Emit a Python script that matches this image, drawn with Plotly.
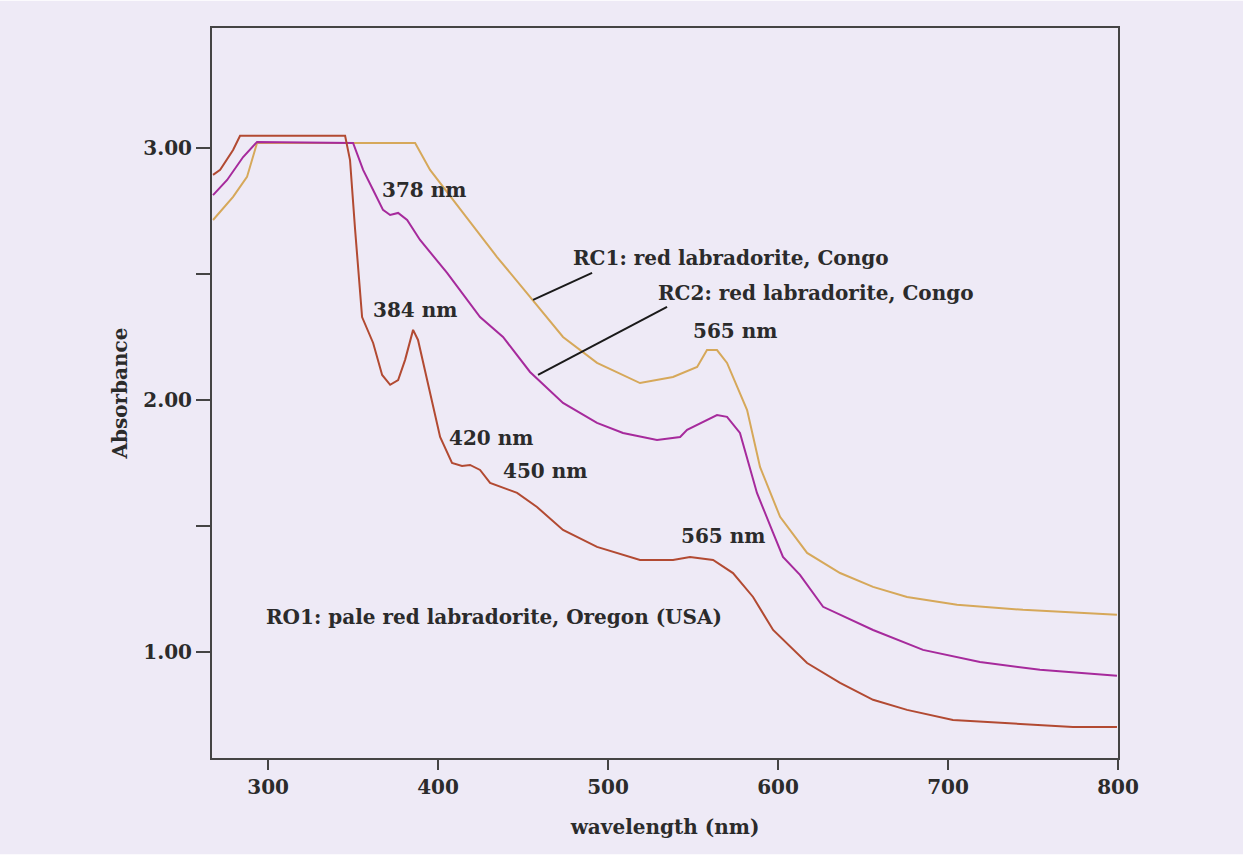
import plotly.graph_objects as go

# Absorption spectra of red labradorite samples (wavelength in nm, absorbance)
ro1_wl = [267.6, 271.8, 279.4, 283.5, 345.3, 348.2, 351.2, 355.3, 361.8, 367.1, 371.8, 376.5,
          380.6, 385.3, 388.2, 393.5, 401.2, 408.2, 414.1, 418.8, 424.7, 430.6, 446.5, 458.2,
          473.5, 493.5, 518.8, 538.2, 548.2, 561.8, 573.5, 585.3, 597.1, 617.1, 636.5, 655.9,
          675.9, 702.9, 734.7, 773.5, 799.4]
ro1_abs = [2.893, 2.913, 2.992, 3.048, 3.048, 2.952, 2.675, 2.329, 2.226, 2.099, 2.060, 2.079,
           2.159, 2.278, 2.238, 2.079, 1.853, 1.750, 1.738, 1.742, 1.722, 1.671, 1.631, 1.575,
           1.484, 1.417, 1.365, 1.365, 1.377, 1.365, 1.313, 1.218, 1.087, 0.956, 0.877, 0.810,
           0.770, 0.730, 0.718, 0.702, 0.702]

rc2_wl = [267.6, 275.9, 285.3, 293.5, 350.0, 355.9, 361.8, 367.6, 371.8, 376.5, 381.8, 389.4,
          405.3, 424.7, 438.2, 454.1, 473.5, 493.5, 508.8, 528.8, 542.4, 546.5, 564.1, 570.0,
          577.6, 587.6, 597.1, 602.9, 612.9, 626.5, 655.9, 685.3, 718.8, 754.1, 799.4]
rc2_abs = [2.813, 2.873, 2.964, 3.024, 3.020, 2.913, 2.833, 2.754, 2.734, 2.742, 2.714, 2.635,
           2.504, 2.329, 2.250, 2.111, 1.988, 1.909, 1.869, 1.841, 1.853, 1.881, 1.940, 1.933,
           1.869, 1.631, 1.472, 1.377, 1.306, 1.179, 1.087, 1.008, 0.960, 0.929, 0.905]

rc1_wl = [267.6, 279.4, 287.6, 293.5, 386.5, 395.3, 414.7, 434.7, 454.1, 473.5, 493.5, 518.8,
          538.2, 552.4, 558.2, 564.1, 570.0, 581.8, 589.4, 601.2, 617.1, 636.5, 655.9, 675.9,
          705.3, 744.1, 799.4]
rc1_abs = [2.714, 2.806, 2.885, 3.020, 3.020, 2.913, 2.742, 2.567, 2.409, 2.250, 2.147, 2.067,
           2.091, 2.131, 2.198, 2.198, 2.147, 1.960, 1.734, 1.536, 1.393, 1.313, 1.258, 1.218,
           1.187, 1.167, 1.147]

# Peak labels: (text, wavelength, absorbance)
peak_labels = [
    ("378 nm", 391.8, 2.833),
    ("384 nm", 386.5, 2.357),
    ("565 nm", 574.7, 2.274),
    ("420 nm", 431.2, 1.849),
    ("450 nm", 462.9, 1.718),
    ("565 nm", 567.6, 1.460),
]

# Sample names and their leader lines
sample_labels = [
    ("RC1: red labradorite, Congo", 572.4, 2.563),
    ("RC2: red labradorite, Congo", 622.4, 2.425),
    ("RO1: pale red labradorite, Oregon (USA)", 432.9, 1.139),
]
leader_x = [[455.9, 490.6], [458.8, 534.7]]
leader_y = [[2.397, 2.504], [2.099, 2.369]]

x_ticks = [300, 400, 500, 600, 700, 800]
y_ticks = [1.0, 1.5, 2.0, 2.5, 3.0]
y_tick_text = ["1.00", "", "2.00", "", "3.00"]

FONT = "DejaVu Serif"
INK = "#2b2b2b"
PAPER = "#eeeaf6"
TXT = dict(family=FONT, size=20, color=INK, weight="bold")

fig = go.Figure()

fig.add_trace(go.Scatter(x=rc1_wl, y=rc1_abs, mode="lines",
                         line=dict(color="#d6a85a", width=2), name="RC1"))
fig.add_trace(go.Scatter(x=rc2_wl, y=rc2_abs, mode="lines",
                         line=dict(color="#a62a9c", width=2), name="RC2"))
fig.add_trace(go.Scatter(x=ro1_wl, y=ro1_abs, mode="lines",
                         line=dict(color="#b24a32", width=2), name="RO1"))

for lx, ly in zip(leader_x, leader_y):
    fig.add_trace(go.Scatter(x=lx, y=ly, mode="lines",
                             line=dict(color="#1a1a1a", width=2), hoverinfo="skip"))

for text, x, y in peak_labels + sample_labels:
    fig.add_annotation(x=x, y=y, text=text, showarrow=False, font=TXT)

axis_common = dict(
    showline=True, linecolor="#444444", linewidth=2, mirror=True,
    ticks="outside", tickcolor="#444444", tickwidth=2,
    showgrid=False, zeroline=False,
    tickfont=TXT,
)

fig.update_layout(
    width=1243, height=855,
    margin=dict(l=212, r=125, t=28, b=97),
    paper_bgcolor=PAPER,
    plot_bgcolor=PAPER,
    showlegend=False,
    xaxis=dict(range=[267, 800], tickvals=x_ticks, ticklen=10,
               title=dict(text="wavelength (nm)", standoff=22, font=TXT),
               **axis_common),
    yaxis=dict(range=[0.579, 3.476], tickvals=y_ticks, ticktext=y_tick_text, ticklen=14,
               title=dict(text="Absorbance", standoff=10, font=TXT),
               **axis_common),
)

# White border round the lavender page
fig.add_shape(type="rect", xref="paper", yref="paper",
              x0=-212 / 906 - 0.01, x1=1 + 125 / 906 + 0.01,
              y0=-97 / 730 - 0.01, y1=1 + 28 / 730 + 0.01,
              line=dict(color="white", width=16), fillcolor="rgba(0,0,0,0)", layer="above")

fig.write_html("out.html")
